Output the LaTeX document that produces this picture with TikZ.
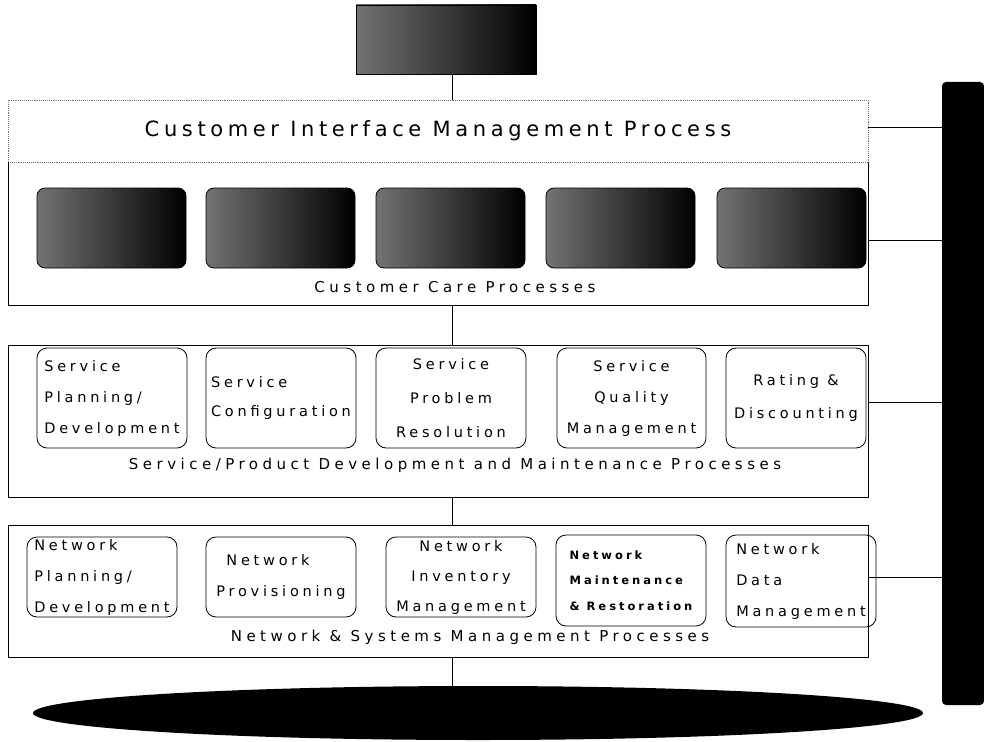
\documentclass[tikz,border=0pt]{standalone}
\usepackage{fontspec}
\setmainfont{DejaVu Sans}[LetterSpace=26]
\usetikzlibrary{shapes.geometric,calc}

\begin{document}
\begin{tikzpicture}[x=1pt,y=-1pt,
  frame/.style={draw=black,line width=0.9pt,inner sep=0pt,outer sep=0pt,anchor=north west,minimum width=860pt},
  procbox/.style={draw=black,line width=0.8pt,rounded corners=10pt,inner sep=0pt,outer sep=0pt,
    anchor=north west,minimum width=150pt,font=\fontsize{14.5}{31}\selectfont},
  leftbox/.style={procbox,align=left},
  midbox/.style={procbox,align=center},
  darkbox/.style={rounded corners=8pt,left color=black!55,right color=black,draw=black,line width=0.8pt,
    inner sep=0pt,outer sep=0pt,anchor=north west,minimum width=149pt,minimum height=80pt},
  link/.style={line width=0.8pt},
  title/.style={font=\fontsize{15}{17}\selectfont\addfontfeatures{LetterSpace=30},inner sep=0pt}
]
\useasboundingbox (0,0) rectangle (984,741);

% vertical spine shared by the layer links
\coordinate (spine) at (452,0);

% customer on top
\node[darkbox,rounded corners=0pt,minimum width=180pt,minimum height=69pt] (cust) at (356,5) {};

% customer interface band
\node[draw=black!55,densely dotted,line width=0.9pt,anchor=north west,minimum width=860pt,
  minimum height=62pt,inner sep=0pt,outer sep=0pt,
  font=\fontsize{21}{24}\selectfont\addfontfeatures{LetterSpace=22}] (cimp) at (8,100)
  {Customer Interface Management Process};

% customer care layer
\node[anchor=north west,minimum width=860pt,minimum height=143pt,inner sep=0pt,outer sep=0pt] (care) at (8,162) {};
\draw[link] (care.north west) -- (care.south west) -- (care.south east) -- (care.north east);
\node[darkbox] (c1) at (37,188) {};
\node[darkbox] (c2) at (206,188) {};
\node[darkbox] (c3) at (376,188) {};
\node[darkbox] (c4) at (546,188) {};
\node[darkbox] (c5) at (717,188) {};
\node[title] (caret) at (455,287) {Customer Care Processes};

% service layer
\node[frame,minimum height=152pt] (svc) at (8,345) {};
\node[leftbox,minimum height=100pt] (s1) at (37,348) {Service\\Planning/\\Development};
\node[leftbox,minimum height=100pt,font=\fontsize{14.5}{29}\selectfont] (s2) at (206,348) {Service\\Configuration};
\node[midbox,minimum height=100pt,font=\fontsize{14.5}{34}\selectfont] (s3) at (376,348) {Service\\Problem\\Resolution};
\node[midbox,minimum height=100pt,minimum width=149pt] (s4) at (557,348) {Service\\Quality\\Management};
\node[midbox,minimum height=100pt,minimum width=140pt,font=\fontsize{14.5}{33}\selectfont] (s5) at (726,348) {Rating \&\\Discounting};
\node[title] (svct) at (455,465) {Service/Product Development and Maintenance Processes};

% network layer
\node[frame,minimum height=132pt] (net) at (8,525) {};
\node[leftbox,minimum height=80pt] (n1) at (27,537) {Network\\Planning/\\Development};
\node[leftbox,minimum height=80pt] (n2) at (206,537) {\hspace*{10pt}Network\\Provisioning};
\node[midbox,minimum height=80pt,font=\fontsize{14.5}{30}\selectfont] (n3) at (386,537) {Network\\Inventory\\Management};
\node[leftbox,minimum height=91pt,font=\bfseries\fontsize{11.5}{25.5}\selectfont] (n4) at (556,535) {Network\\Maintenance\\\& Restoration};
\node[leftbox,minimum height=92pt,font=\fontsize{14.5}{31}\selectfont] (n5) at (726,535) {Network\\Data\\Management};
\node[title] (nett) at (470,637) {Network \& Systems Management Processes};

% infrastructure base
\node[ellipse,fill=black,minimum width=890pt,minimum height=54pt,inner sep=0pt,outer sep=0pt] (infra) at (478,713) {};

% side bar
\node[fill=black,rounded corners=4pt,anchor=north west,minimum width=42pt,minimum height=623pt,
  inner sep=0pt,outer sep=0pt] (bar) at (942,82) {};

% links between layers
\draw[link] (cust.south -| spine) -- (cimp.north -| spine);
\draw[link] (care.south -| spine) -- (svc.north -| spine);
\draw[link] (svc.south -| spine) -- (net.north -| spine);
\draw[link] (net.south -| spine) -- (infra.north -| spine);

% links to the side bar
\coordinate (cimpR) at ($(cimp.north east)!0.45!(cimp.south east)$);
\coordinate (careR) at ($(care.north east)!0.545!(care.south east)$);
\coordinate (svcR) at ($(svc.north east)!0.38!(svc.south east)$);
\coordinate (netR) at ($(net.north east)!0.40!(net.south east)$);
\draw[link] (cimpR) -- (cimpR -| bar.west);
\draw[link] (careR) -- (careR -| bar.west);
\draw[link] (svcR) -- (svcR -| bar.west);
\draw[link] (netR) -- (netR -| bar.west);
\end{tikzpicture}
\end{document}
